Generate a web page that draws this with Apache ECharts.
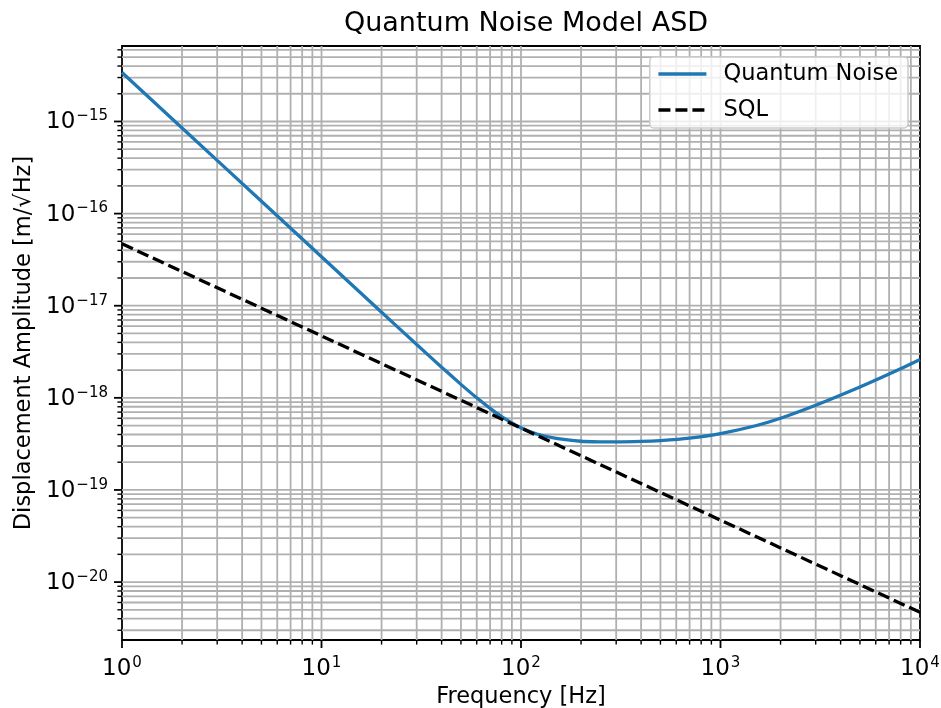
<!DOCTYPE html>
<html>
<head>
    <meta charset="utf-8">
    <script src="https://cdn.jsdelivr.net/npm/echarts@6/dist/echarts.min.js"></script>
    <style>
        html, body {margin: 0; padding: 0; background: #fff;}
        #chart {width: 941px; height: 708px;}
    </style>
</head>
<body>
<div id="chart"></div>
<script>
    // values
    var freqQN = [1, 2, 5, 10, 20, 30, 40, 50, 60, 70, 80, 90, 100, 120, 150, 200, 250, 300, 400, 500, 700, 1000, 1500, 2000, 3000, 5000, 7000, 10000];
    var asdQN = [3.4e-15, 8.5e-16, 1.36e-16, 3.4e-17, 8.5e-18, 3.79e-18, 2.15e-18, 1.4e-18, 1.0e-18, 7.69e-19, 6.25e-19, 5.34e-19, 4.72e-19, 4.05e-19, 3.63e-19, 3.38e-19, 3.33e-19, 3.32e-19, 3.36e-19, 3.44e-19, 3.66e-19, 4.1e-19, 4.98e-19, 6.0e-19, 8.3e-19, 1.31e-18, 1.81e-18, 2.6e-18];
    var freqSQL = [1, 10, 100, 1000, 10000];
    var asdSQL = [4.7e-17, 4.7e-18, 4.7e-19, 4.7e-20, 4.7e-21];

    // axis range and ticks
    var xMin = 1, xMax = 10000;
    var yMin = 2.35e-21, yMax = 6.6e-15;
    var xMajorTicks = [1, 10, 100, 1000, 10000];
    var xMinorTicks = [2, 3, 4, 5, 6, 7, 8, 9, 20, 30, 40, 50, 60, 70, 80, 90,
        200, 300, 400, 500, 600, 700, 800, 900, 2000, 3000, 4000, 5000, 6000, 7000, 8000, 9000];
    var yMajorTicks = [1e-20, 1e-19, 1e-18, 1e-17, 1e-16, 1e-15];
    var yMinorTicks = [3e-21, 4e-21, 5e-21, 6e-21, 7e-21, 8e-21, 9e-21,
        2e-20, 3e-20, 4e-20, 5e-20, 6e-20, 7e-20, 8e-20, 9e-20,
        2e-19, 3e-19, 4e-19, 5e-19, 6e-19, 7e-19, 8e-19, 9e-19,
        2e-18, 3e-18, 4e-18, 5e-18, 6e-18, 7e-18, 8e-18, 9e-18,
        2e-17, 3e-17, 4e-17, 5e-17, 6e-17, 7e-17, 8e-17, 9e-17,
        2e-16, 3e-16, 4e-16, 5e-16, 6e-16, 7e-16, 8e-16, 9e-16,
        2e-15, 3e-15, 4e-15, 5e-15, 6e-15];

    var FONT = 'DejaVu Sans';

    function zip(a, b) {
        var out = [];
        for (var i = 0; i < a.length; i++) out.push([a[i], b[i]]);
        return out;
    }

    // [x, y, axis(0 = x, 1 = y), major(1) / minor(0)]
    var tickItems = [];
    xMajorTicks.forEach(function (v) { tickItems.push([v, yMin, 0, 1]); });
    xMinorTicks.forEach(function (v) { tickItems.push([v, yMin, 0, 0]); });
    yMajorTicks.forEach(function (v) { tickItems.push([xMin, v, 1, 1]); });
    yMinorTicks.forEach(function (v) { tickItems.push([xMin, v, 1, 0]); });

    function powLabel(v) {
        var e = Math.log10(v);
        var r = Math.round(e);
        if (Math.abs(e - r) > 1e-6) return '';
        return '{b|10}{s|' + (r < 0 ? '\u2212' + (-r) : r) + '}';
    }

    var labelRich = {
        b: {fontSize: 23, fontFamily: FONT, color: '#000', verticalAlign: 'bottom'},
        s: {fontSize: 15, fontFamily: FONT, color: '#000', verticalAlign: 'bottom', padding: [0, 0, 10, 1]}
    };

    function renderTicks(params, api) {
        var cs = params.coordSys;
        var p = api.coord([api.value(0), api.value(1)]);
        var isY = api.value(2) === 1;
        var major = api.value(3) === 1;
        var len = major ? 8 : 4.6;
        var tw = major ? 1.8 : 1.4;
        var children = [];
        var gridStyle = {stroke: '#b0b0b0', lineWidth: 1.8};
        var tickStyle = {stroke: '#000', lineWidth: tw};
        if (!isY) {
            var x = p[0];
            if (x > cs.x + 1 && x < cs.x + cs.width - 1) {
                children.push({type: 'line', shape: {x1: x, y1: cs.y, x2: x, y2: cs.y + cs.height}, style: gridStyle});
            }
            children.push({type: 'line', shape: {x1: x, y1: cs.y + cs.height, x2: x, y2: cs.y + cs.height + len}, style: tickStyle});
        } else {
            var y = p[1];
            if (y > cs.y + 1 && y < cs.y + cs.height - 1) {
                children.push({type: 'line', shape: {x1: cs.x, y1: y, x2: cs.x + cs.width, y2: y}, style: gridStyle});
            }
            children.push({type: 'line', shape: {x1: cs.x, y1: y, x2: cs.x - len, y2: y}, style: tickStyle});
        }
        return {type: 'group', children: children};
    }

    var myChart = echarts.init(document.getElementById('chart'), null, {renderer: 'canvas'});

    var option = {
        animation: false,
        backgroundColor: '#fff',
        title: {
            text: 'Quantum Noise Model ASD',
            left: 521,
            textAlign: 'center',
            top: 5,
            textStyle: {fontFamily: FONT, fontSize: 27, fontWeight: 'normal', color: '#000'}
        },
        legend: {
            orient: 'vertical',
            right: 33,
            top: 57,
            padding: [5, 10, 6, 7],
            itemWidth: 48,
            itemHeight: 14,
            itemGap: 12,
            backgroundColor: 'rgba(255,255,255,0.8)',
            borderColor: '#cccccc',
            borderWidth: 1.5,
            borderRadius: 4,
            itemStyle: {opacity: 0},
            lineStyle: {width: 3.3},
            data: ['Quantum Noise', 'SQL'],
            textStyle: {fontFamily: FONT, fontSize: 22.5, color: '#000', lineHeight: 24, padding: [0, 0, 0, 12]}
        },
        grid: {
            left: 122,
            right: 21,
            top: 46,
            bottom: 68,
            outerBoundsMode: 'none',
            show: true,
            borderColor: '#000',
            borderWidth: 1.8,
            backgroundColor: 'transparent'
        },
        xAxis: {
            type: 'log',
            logBase: 10,
            min: xMin,
            max: xMax,
            name: 'Frequency [Hz]',
            nameLocation: 'middle',
            nameGap: 45,
            nameTextStyle: {fontFamily: FONT, fontSize: 22.5, color: '#000'},
            axisLine: {show: false},
            axisTick: {show: false},
            splitLine: {show: false},
            axisLabel: {margin: 16, formatter: powLabel, rich: labelRich}
        },
        yAxis: {
            type: 'log',
            logBase: 10,
            min: yMin,
            max: yMax,
            name: 'Displacement Amplitude [m/\u221aHz]',
            nameLocation: 'middle',
            nameGap: 83,
            nameRotate: 90,
            nameTextStyle: {fontFamily: FONT, fontSize: 22.5, color: '#000'},
            axisLine: {show: false},
            axisTick: {show: false},
            splitLine: {show: false},
            axisLabel: {margin: 14, formatter: powLabel, rich: labelRich, showMinLabel: false, showMaxLabel: false}
        },
        series: [
            {
                type: 'custom',
                name: 'ticks',
                silent: true,
                z: 1,
                clip: false,
                encode: {x: 0, y: 1},
                renderItem: renderTicks,
                data: tickItems
            },
            {
                name: 'Quantum Noise',
                type: 'line',
                z: 3,
                symbol: 'none',
                smooth: 0.2,
                color: '#1f77b4',
                lineStyle: {color: '#1f77b4', width: 3.3},
                data: zip(freqQN, asdQN)
            },
            {
                name: 'SQL',
                type: 'line',
                z: 3,
                symbol: 'none',
                color: '#000',
                lineStyle: {color: '#000', width: 3.3, type: [12, 5]},
                data: zip(freqSQL, asdSQL)
            }
        ]
    };

    myChart.setOption(option);
</script>
</body>
</html>
